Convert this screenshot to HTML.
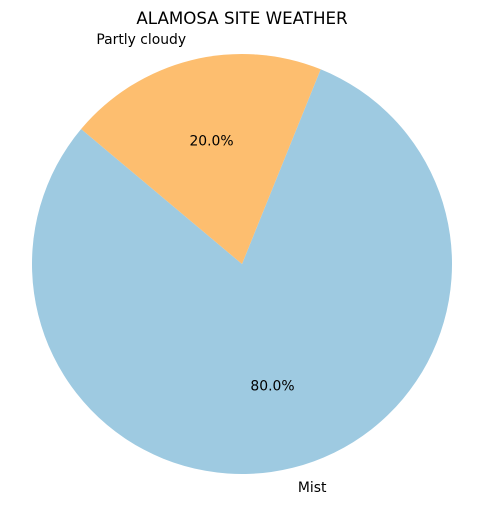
<!DOCTYPE html>
<html><head><meta charset="utf-8"><style>
html,body{margin:0;padding:0;background:#fff;}
svg{display:block;font-family:"DejaVu Sans","Liberation Sans",sans-serif;}
</style></head><body>
<svg id="chart" width="484" height="506">
<text x="242" y="24" text-anchor="middle" font-size="16.7" fill="#000">ALAMOSA SITE WEATHER</text>
<g id="slices"></g>
</svg>
<script>
const categories = ["Mist", "Partly cloudy"];
const values = [80, 20];
const colors = ["#9ecae1", "#fdbe6f"];
const startAngle = 140;

const cx = 242, cy = 264, r = 210;
const ns = "http://www.w3.org/2000/svg";
const g = document.getElementById("slices");
const total = values.reduce((a, b) => a + b, 0);
function pt(angDeg, rad) {
  const a = angDeg * Math.PI / 180;
  return [cx + rad * Math.cos(a), cy - rad * Math.sin(a)];
}
let ang = startAngle;
values.forEach((v, i) => {
  const sweep = v / total * 360;
  const a0 = ang, a1 = ang + sweep;
  const p0 = pt(a0, r), p1 = pt(a1, r);
  const large = sweep > 180 ? 1 : 0;
  const path = document.createElementNS(ns, "path");
  path.setAttribute("d", `M${cx},${cy} L${p0[0]},${p0[1]} A${r},${r} 0 ${large} 0 ${p1[0]},${p1[1]} Z`);
  path.setAttribute("fill", colors[i]);
  
  
  g.appendChild(path);
  const mid = (a0 + a1) / 2;
  const lp = pt(mid, r * 1.1);
  const lab = document.createElementNS(ns, "text");
  lab.setAttribute("x", lp[0]);
  lab.setAttribute("y", lp[1]);
  lab.setAttribute("font-size", "13.9");
  lab.setAttribute("dominant-baseline", "middle");
  lab.setAttribute("text-anchor", Math.cos(mid * Math.PI / 180) >= 0 ? "start" : "end");
  lab.textContent = categories[i];
  
  
  g.appendChild(lab);
  const pp = pt(mid, r * 0.6);
  const pct = document.createElementNS(ns, "text");
  pct.setAttribute("x", pp[0]);
  pct.setAttribute("y", pp[1]);
  pct.setAttribute("font-size", "13.9");
  pct.setAttribute("dominant-baseline", "middle");
  pct.setAttribute("text-anchor", "middle");
  pct.textContent = (v / total * 100).toFixed(1) + "%";
  
  
  g.appendChild(pct);
  ang = a1;
});
</script>
</body></html>
